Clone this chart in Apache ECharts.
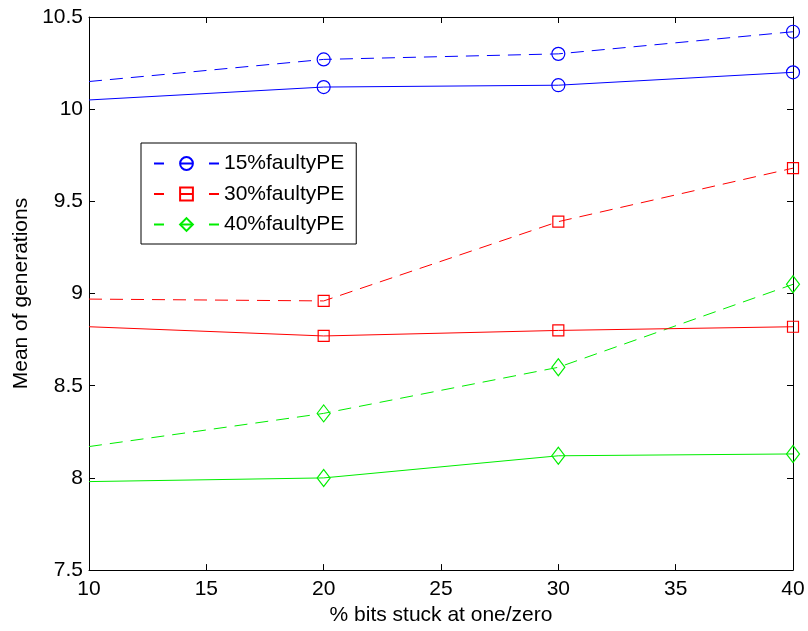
<!DOCTYPE html>
<html>
<head>
<meta charset="utf-8">
<script src="https://cdn.jsdelivr.net/npm/echarts@6/dist/echarts.min.js"></script>
<style>
html,body{margin:0;padding:0;background:#fff;}
#chart{width:808px;height:631px;}
</style>
</head>
<body>
<div id="chart"></div>
<script>
const xValues = [10, 20, 30, 40];
const xTicks = [10, 15, 20, 25, 30, 35, 40];
const yTicks = [7.5, 8, 8.5, 9, 9.5, 10, 10.5];
const legendNames = ['15%faultyPE', '30%faultyPE', '40%faultyPE'];
const blueDashed = [10.15, 10.27, 10.30, 10.42];
const blueSolid = [10.05, 10.12, 10.13, 10.20];
const redDashed = [8.97, 8.96, 9.39, 9.68];
const redSolid = [8.82, 8.77, 8.80, 8.82];
const greenDashed = [8.17, 8.35, 8.60, 9.05];
const greenSolid = [7.98, 8.00, 8.12, 8.13];

const FONT = '"Liberation Sans", Arial, Helvetica, sans-serif';
const FS = 21;

function pts(vals) {
  return xValues.map((x, i) => i === 0 ? { value: [x, vals[i]], symbol: 'none' } : { value: [x, vals[i]] });
}
function mk(name, vals, color, dashed, symbol, size) {
  return {
    name: name,
    type: 'line',
    data: pts(vals),
    symbol: symbol,
    symbolSize: size,
    showAllSymbol: true,
    animation: false,
    silent: true,
    lineStyle: { color: color, width: 1, type: dashed ? [13, 8] : 'solid' },
    itemStyle: { color: 'rgba(0,0,0,0)', borderColor: color, borderWidth: 1.2 },
    emphasis: { disabled: true },
    z: 3
  };
}

const chart = echarts.init(document.getElementById('chart'), null, { renderer: 'canvas' });
const axisCommon = {
  type: 'value',
  axisLine: { show: true, onZero: false, lineStyle: { color: '#000', width: 1 } },
  axisTick: { show: true, inside: true, length: 6, lineStyle: { color: '#000', width: 1 } },
  splitLine: { show: false }
};
chart.setOption({
  backgroundColor: '#fff',
  animation: false,
  grid: { left: 89, right: 15, top: 17, bottom: 59, containLabel: false },
  legend: {
    data: legendNames.map(n => ({ name: n, lineStyle: { type: [10, 16, 13, 16, 10, 100] } })),
    orient: 'vertical',
    left: 141,
    top: 143,
    padding: [10, 12, 9, 12],
    itemWidth: 65,
    itemHeight: 16,
    itemGap: 9.5,
    backgroundColor: '#fff',
    borderColor: '#000',
    borderWidth: 1,
    selectedMode: false,
    textStyle: { fontFamily: FONT, fontSize: FS, color: '#000', lineHeight: 20 }
  },
  xAxis: [
    Object.assign({}, axisCommon, {
      min: 10, max: 40, interval: 5,
      position: 'bottom',
      name: '% bits stuck at one/zero',
      nameLocation: 'middle',
      nameGap: 32,
      nameTextStyle: { fontFamily: FONT, fontSize: FS, color: '#000' },
      axisLabel: { show: true, margin: 9, fontFamily: FONT, fontSize: FS, color: '#000',
        formatter: v => xTicks.includes(v) ? String(v) : '' }
    }),
    Object.assign({}, axisCommon, {
      min: 10, max: 40, interval: 5,
      position: 'top',
      axisLabel: { show: false }
    })
  ],
  yAxis: [
    Object.assign({}, axisCommon, {
      min: 7.5, max: 10.5, interval: 0.5,
      position: 'left',
      name: 'Mean of generations',
      nameLocation: 'middle',
      nameGap: 56,
      nameTextStyle: { fontFamily: FONT, fontSize: FS, color: '#000' },
      axisLabel: { show: true, margin: 6, fontFamily: FONT, fontSize: FS, color: '#000',
        formatter: v => yTicks.includes(v) ? String(v) : '' }
    }),
    Object.assign({}, axisCommon, {
      min: 7.5, max: 10.5, interval: 0.5,
      position: 'right',
      axisLabel: { show: false }
    })
  ],
  series: [
    mk(legendNames[0], blueDashed, '#0000ff', true, 'circle', 13),
    mk(legendNames[1], redDashed, '#ff0000', true, 'rect', 11),
    mk(legendNames[2], greenDashed, '#00ee00', true, 'diamond', [13, 17]),
    mk('15% solid', blueSolid, '#0000ff', false, 'circle', 13),
    mk('30% solid', redSolid, '#ff0000', false, 'rect', 11),
    mk('40% solid', greenSolid, '#00ee00', false, 'diamond', [13, 17])
  ]
});
</script>
</body>
</html>
